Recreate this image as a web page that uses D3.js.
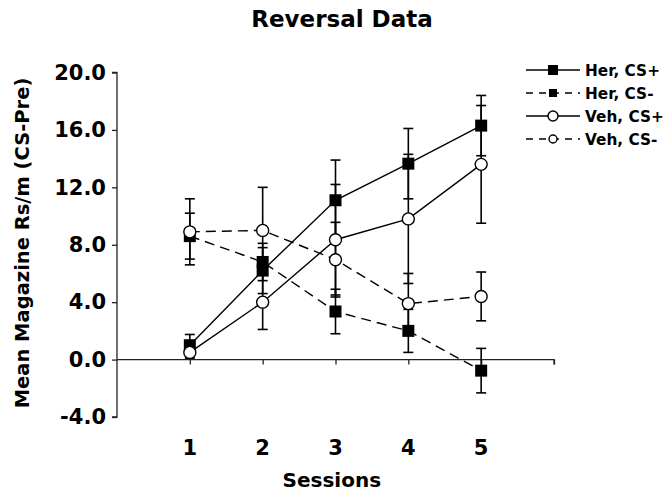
<!DOCTYPE html>
<html><head><meta charset="utf-8">
<script src="https://cdn.jsdelivr.net/npm/d3@7"></script>
<style>body{margin:0;background:#fff}svg{display:block}text{font-family:"DejaVu Sans",Verdana,sans-serif;font-weight:bold;fill:#000}</style>
</head><body><svg id="c" width="669" height="491"></svg>
<script>
const sessions = [1, 2, 3, 4, 5];
const yTicks = [-4, 0, 4, 8, 12, 16, 20];
const seriesNames = ["Her, CS+", "Her, CS-", "Veh, CS+", "Veh, CS-"];
const herCSplus = [1.0, 6.2, 11.1, 13.65, 16.3];
const herCSplusErr = [0.75, 1.6, 2.8, 2.45, 2.1];
const herCSminus = [8.6, 6.8, 3.35, 2.0, -0.77];
const herCSminusErr = [1.6, 1.3, 1.55, 1.5, 1.55];
const vehCSplus = [0.5, 4.0, 8.35, 9.8, 13.6];
const vehCSplusErr = [0.4, 1.9, 3.85, 4.5, 4.1];
const vehCSminus = [8.9, 9.0, 6.96, 3.9, 4.4];
const vehCSminusErr = [2.3, 3.0, 2.6, 2.1, 1.7];

const series = [
  {name: seriesNames[0], vals: herCSplus, err: herCSplusErr, marker: "square", dash: null},
  {name: seriesNames[1], vals: herCSminus, err: herCSminusErr, marker: "square", dash: "10,6"},
  {name: seriesNames[2], vals: vehCSplus, err: vehCSplusErr, marker: "circle", dash: null},
  {name: seriesNames[3], vals: vehCSminus, err: vehCSminusErr, marker: "circle", dash: "10,6"}
];

const svg = d3.select("#c");
const x = d3.scaleLinear().domain([0, 6]).range([117, 554]);
const y = d3.scaleLinear().domain([-4, 20]).range([417, 72.5]);

svg.append("text").attr("x", 342).attr("y", 27).attr("text-anchor", "middle")
  .style("font-size", "23px").text("Reversal Data");

// y axis
const yAxis = svg.append("g").attr("transform", `translate(${x(0)},0)`)
  .call(d3.axisLeft(y).tickValues(yTicks).tickSize(5).tickPadding(6).tickFormat(d => d.toFixed(1)));
yAxis.select(".domain").attr("d", `M-5,${y(20)}H0V${y(-4)}H-5`).attr("stroke", "#222").attr("stroke-width", 1.3);
yAxis.selectAll(".tick line").attr("stroke", "#222").attr("stroke-width", 1.3);
yAxis.selectAll(".tick text").style("font-size", "21px").style("font-family", '"DejaVu Sans",sans-serif').style("font-weight", "bold").attr("fill", "#000");

// x axis at y=0
const xAxis = svg.append("g").attr("transform", `translate(0,${y(0)})`)
  .call(d3.axisBottom(x).tickValues([1, 2, 3, 4, 5, 6]).tickSize(5).tickFormat(""));
xAxis.select(".domain").attr("d", `M${x(0)},0H${x(6)}V5`).attr("stroke", "#222").attr("stroke-width", 1.3);
xAxis.selectAll(".tick line").attr("stroke", "#222").attr("stroke-width", 1.3);

// x tick labels below plot
svg.append("g").selectAll("text").data(sessions).join("text")
  .attr("x", d => x(d)).attr("y", 455).attr("text-anchor", "middle")
  .style("font-size", "21px").text(d => d);

svg.append("text").attr("x", x(2.95)).attr("y", 487).attr("text-anchor", "middle")
  .style("font-size", "20px").text("Sessions");

svg.append("text").attr("transform", `translate(29,${243}) rotate(-90)`)
  .attr("text-anchor", "middle").style("font-size", "19.5px").text("Mean Magazine Rs/m (CS-Pre)");

const line = d3.line().x((d, i) => x(sessions[i])).y(d => y(d));

// lines
series.forEach(s => {
  svg.append("path").attr("d", line(s.vals)).attr("fill", "none")
    .attr("stroke", "#000").attr("stroke-width", 1.4)
    .attr("stroke-dasharray", s.dash);
});

// error bars
series.forEach(s => {
  const g = svg.append("g").attr("stroke", "#000").attr("stroke-width", 1.6);
  s.vals.forEach((v, i) => {
    const cx = x(sessions[i]), t = y(v + s.err[i]), b = y(v - s.err[i]);
    g.append("line").attr("x1", cx).attr("x2", cx).attr("y1", t).attr("y2", b);
    g.append("line").attr("x1", cx - 5).attr("x2", cx + 5).attr("y1", t).attr("y2", t);
    g.append("line").attr("x1", cx - 5).attr("x2", cx + 5).attr("y1", b).attr("y2", b);
  });
});

function drawMarker(g, type, cx, cy, size) {
  if (type === "square") {
    g.append("rect").attr("x", cx - size / 2).attr("y", cy - size / 2)
      .attr("width", size).attr("height", size).attr("fill", "#000");
  } else {
    g.append("circle").attr("cx", cx).attr("cy", cy).attr("r", size / 2)
      .attr("fill", "#fff").attr("stroke", "#000").attr("stroke-width", 1.4);
  }
}

// markers
series.forEach(s => {
  const g = svg.append("g");
  s.vals.forEach((v, i) => drawMarker(g, s.marker, x(sessions[i]), y(v), 12));
});

// legend
const legY = [70, 93, 116, 139];
series.forEach((s, k) => {
  const g = svg.append("g");
  g.append("line").attr("x1", 526).attr("x2", 580).attr("y1", legY[k]).attr("y2", legY[k])
    .attr("stroke", "#000").attr("stroke-width", 1.4).attr("stroke-dasharray", s.dash ? "7,6" : null);
  drawMarker(g, s.marker, 553, legY[k], s.dash ? 8 : 10);
  g.append("text").attr("x", 585).attr("y", legY[k] + 6).style("font-size", "15.3px").text(s.name);
});
</script></body></html>
